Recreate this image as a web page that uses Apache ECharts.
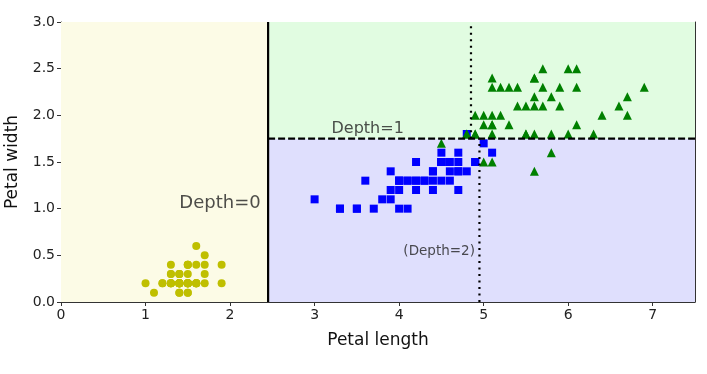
<!DOCTYPE html>
<html><head><meta charset="utf-8">
<script src="https://cdn.jsdelivr.net/npm/echarts@6/dist/echarts.min.js"></script>
<style>html,body{margin:0;padding:0;background:#fff}#c{width:707px;height:374px}</style>
</head><body><div id="c"></div>
<script>
// Iris petal length / petal width, per class
const setosa = [[1.4,0.2],[1.4,0.2],[1.3,0.2],[1.5,0.2],[1.4,0.2],[1.7,0.4],[1.4,0.3],[1.5,0.2],[1.4,0.2],[1.5,0.1],
[1.5,0.2],[1.6,0.2],[1.4,0.1],[1.1,0.1],[1.2,0.2],[1.5,0.4],[1.3,0.4],[1.4,0.3],[1.7,0.3],[1.5,0.3],
[1.7,0.2],[1.5,0.4],[1.0,0.2],[1.7,0.5],[1.9,0.2],[1.6,0.2],[1.6,0.4],[1.5,0.2],[1.4,0.2],[1.6,0.2],
[1.6,0.2],[1.5,0.4],[1.5,0.1],[1.4,0.2],[1.5,0.2],[1.2,0.2],[1.3,0.2],[1.4,0.1],[1.3,0.2],[1.5,0.2],
[1.3,0.3],[1.3,0.3],[1.3,0.2],[1.6,0.6],[1.9,0.4],[1.4,0.3],[1.6,0.2],[1.4,0.2],[1.5,0.2],[1.4,0.2]];
const versicolor = [[4.7,1.4],[4.5,1.5],[4.9,1.5],[4.0,1.3],[4.6,1.5],[4.5,1.3],[4.7,1.6],[3.3,1.0],[4.6,1.3],[3.9,1.4],
[3.5,1.0],[4.2,1.5],[4.0,1.0],[4.7,1.4],[3.6,1.3],[4.4,1.4],[4.5,1.5],[4.1,1.0],[4.5,1.5],[3.9,1.1],
[4.8,1.8],[4.0,1.3],[4.9,1.5],[4.7,1.2],[4.3,1.3],[4.4,1.4],[4.8,1.4],[5.0,1.7],[4.5,1.5],[3.5,1.0],
[3.8,1.1],[3.7,1.0],[3.9,1.2],[5.1,1.6],[4.5,1.5],[4.5,1.6],[4.7,1.5],[4.4,1.3],[4.1,1.3],[4.0,1.3],
[4.4,1.2],[4.6,1.4],[4.0,1.2],[3.3,1.0],[4.2,1.3],[4.2,1.2],[4.2,1.3],[4.3,1.3],[3.0,1.1],[4.1,1.3]];
const virginica = [[6.0,2.5],[5.1,1.9],[5.9,2.1],[5.6,1.8],[5.8,2.2],[6.6,2.1],[4.5,1.7],[6.3,1.8],[5.8,1.8],[6.1,2.5],
[5.1,2.0],[5.3,1.9],[5.5,2.1],[5.0,2.0],[5.1,2.4],[5.3,2.3],[5.5,1.8],[6.7,2.2],[6.9,2.3],[5.0,1.5],
[5.7,2.3],[4.9,2.0],[6.7,2.0],[4.9,1.8],[5.7,2.1],[6.0,1.8],[4.8,1.8],[4.9,1.8],[5.6,2.1],[5.8,1.6],
[6.1,1.9],[6.4,2.0],[5.6,2.2],[5.1,1.5],[5.6,1.4],[6.1,2.3],[5.6,2.4],[5.5,1.8],[4.8,1.8],[5.4,2.1],
[5.6,2.4],[5.1,2.3],[5.1,1.9],[5.9,2.3],[5.7,2.5],[5.2,2.3],[5.0,1.9],[5.2,2.0],[5.4,2.3],[5.1,1.8]];

// Decision regions of the depth-2 tree: [x0, y0, x1, y1]
const regionBounds = [[0,0,2.45,3],[2.45,0,7.5,1.75],[2.45,1.75,7.5,3]];
const regionColors = ['#fcfbe6','#dfdffd','#e1fce1'];

// Split boundaries
const splitSolid = [[2.45,0],[2.45,3]];
const splitDashed = [[2.45,1.75],[7.5,1.75]];
const splitDotted1 = [[4.95,0],[4.95,1.75]];
const splitDotted2 = [[4.85,1.75],[4.85,3]];

// Annotations
const annoTexts = ['Depth=0','Depth=1','(Depth=2)'];
const annoPos = [[1.40,1.0],[3.2,1.80],[4.05,0.5]];
const annoSizes = [18,16,13.5];

const xTicks = [0,1,2,3,4,5,6,7];
const yTicks = [0,0.5,1,1.5,2,2.5,3];

const FONT = 'DejaVu Sans';
const chart = echarts.init(document.getElementById('c'), null, {renderer:'canvas'});

const lineSeries = (data, type) => ({
  type:'line', data, symbol:'none', animation:false, silent:true, z:5,
  lineStyle:{color:'#000', width:2.2, type, cap:'butt'}
});

chart.setOption({
  animation:false,
  grid:{left:61, right:12, top:22, bottom:72, containLabel:false, outerBoundsMode:'none'},
  xAxis:[{
    type:'value', min:0, max:7.5,
    name:'Petal length', nameLocation:'middle', nameGap:30,
    nameTextStyle:{fontFamily:FONT, fontSize:17, color:'#111'},
    axisLine:{show:true, onZero:false, lineStyle:{color:'#333', width:1}},
    axisTick:{show:true, length:4, customValues:xTicks, lineStyle:{color:'#333'}},
    axisLabel:{customValues:xTicks, fontFamily:FONT, fontSize:14, color:'#222', margin:6},
    splitLine:{show:false}
  },{
    type:'value', min:0, max:7.5, position:'top',
    axisLine:{show:true, onZero:false, lineStyle:{color:'#333', width:1}},
    axisTick:{show:false}, axisLabel:{show:false}, splitLine:{show:false}
  }],
  yAxis:[{
    type:'value', min:0, max:3, interval:0.5,
    name:'Petal width', nameLocation:'middle', nameGap:40,
    nameTextStyle:{fontFamily:FONT, fontSize:17, color:'#111'},
    axisLine:{show:true, onZero:false, lineStyle:{color:'#333', width:1}},
    axisTick:{show:true, length:4, customValues:yTicks, lineStyle:{color:'#333'}},
    axisLabel:{customValues:yTicks, fontFamily:FONT, fontSize:14, color:'#222', margin:6,
      formatter:v=>Number(v).toFixed(1)},
    splitLine:{show:false}
  },{
    type:'value', min:0, max:3, position:'right',
    axisLine:{show:true, onZero:false, lineStyle:{color:'#333', width:1}},
    axisTick:{show:false}, axisLabel:{show:false}, splitLine:{show:false}
  }],
  series:[
    {
      type:'custom', silent:true, z:1,
      data: regionBounds.map((b,i)=>[b[0],b[1],b[2],b[3],i]),
      encode:{x:[0,2], y:[1,3]},
      renderItem:(params, api)=>{
        const p0 = api.coord([api.value(0), api.value(1)]);
        const p1 = api.coord([api.value(2), api.value(3)]);
        return {type:'rect', shape:{x:Math.min(p0[0],p1[0]), y:Math.min(p0[1],p1[1]),
          width:Math.abs(p1[0]-p0[0]), height:Math.abs(p1[1]-p0[1])},
          style:{fill:regionColors[api.value(4)]}};
      }
    },
    {type:'scatter', data:setosa, symbol:'circle', symbolSize:8, itemStyle:{color:'#bfbf00', opacity:1}, z:3},
    {type:'scatter', data:versicolor, symbol:'rect', symbolSize:8, itemStyle:{color:'#0000ff', opacity:1}, z:3},
    {type:'scatter', data:virginica, symbol:'triangle', symbolSize:9, itemStyle:{color:'#008000', opacity:1}, z:3},
    lineSeries(splitSolid, 'solid'),
    lineSeries(splitDashed, [7,3]),
    lineSeries(splitDotted1, [2,4.5]),
    lineSeries(splitDotted2, [2,4.5]),
    {
      type:'scatter', symbolSize:0, silent:true, z:6,
      data: annoPos.map((p,i)=>({value:p, label:{show:true, formatter:annoTexts[i],
        fontSize:annoSizes[i], fontFamily:FONT, color:'#222',
        position:[0,0], align:'left', verticalAlign:'bottom', offset:[0, Math.round(annoSizes[i]*0.2)]}}))
    }
  ]
});
</script>
</body></html>
